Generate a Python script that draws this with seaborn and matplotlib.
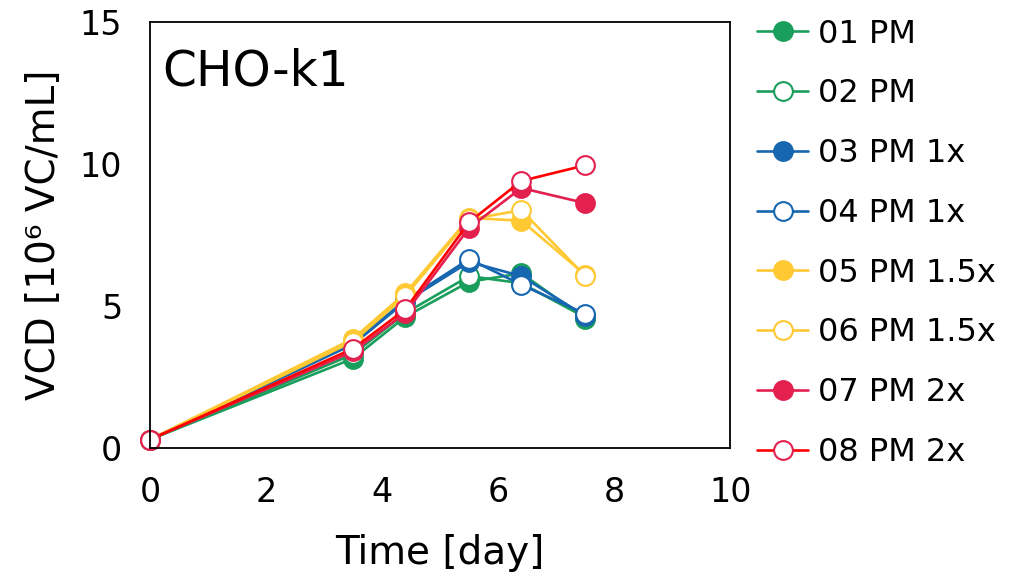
import matplotlib
matplotlib.use("Agg")
import matplotlib.pyplot as plt
import seaborn as sns

## Culture time points (day)
days = [0, 3.5, 4.4, 5.5, 6.4, 7.5]

## VCD readings per condition [10^6 VC/mL]
vcd_01 = [0.3, 3.15, 4.62, 5.85, 6.15, 4.55]
vcd_02 = [0.3, 3.30, 4.75, 6.05, 5.80, 4.60]
vcd_03 = [0.3, 3.65, 5.15, 6.55, 6.05, 4.65]
vcd_04 = [0.3, 3.70, 5.20, 6.65, 5.75, 4.72]
vcd_05 = [0.3, 3.85, 5.45, 8.10, 8.00, 6.10]
vcd_06 = [0.3, 3.75, 5.35, 8.05, 8.37, 6.05]
vcd_07 = [0.3, 3.40, 4.75, 7.75, 9.15, 8.62]
vcd_08 = [0.3, 3.50, 4.88, 7.95, 9.40, 9.95]

labels = ["01 PM", "02 PM", "03 PM 1x", "04 PM 1x",
          "05 PM 1.5x", "06 PM 1.5x", "07 PM 2x", "08 PM 2x"]
series = [vcd_01, vcd_02, vcd_03, vcd_04, vcd_05, vcd_06, vcd_07, vcd_08]

GREEN = "#1A9E5C"
BLUE = "#1666B0"
YELLOW = "#FFC933"
CRIMSON = "#E4204F"
RED = "#FF0000"

# (line colour, marker edge, filled?)
styles = [
    (GREEN, GREEN, True), (GREEN, GREEN, False),
    (BLUE, BLUE, True), (BLUE, BLUE, False),
    (YELLOW, YELLOW, True), (YELLOW, YELLOW, False),
    (CRIMSON, CRIMSON, True), (RED, CRIMSON, False),
]

sns.set_theme(style="white")
plt.rcParams["font.family"] = ["DejaVu Sans"]
plt.rcParams["text.color"] = "black"

fig = plt.figure(figsize=(10.2, 5.73), dpi=100)
ax = fig.add_axes([0.147, 0.218, 0.569, 0.744])

for vals, lab, (lc, ec, filled) in zip(series, labels, styles):
    sns.lineplot(x=days, y=vals, ax=ax, color=lc, linewidth=1.9,
                 marker="o", markersize=13.5, markeredgewidth=1.5,
                 markeredgecolor=ec, markerfacecolor=ec if filled else "white",
                 label=lab, estimator=None, sort=False)

ax.set_xlim(0, 10)
ax.set_ylim(0, 15)
ax.set_xticks([0, 2, 4, 6, 8, 10])
ax.set_yticks([0, 5, 10, 15])
ax.tick_params(length=0, labelsize=24, colors="black")
ax.tick_params(axis="x", pad=20)
ax.tick_params(axis="y", pad=20)
for s in ax.spines.values():
    s.set_color("black")
    s.set_linewidth(1.3)

ax.set_xlabel("Time [day]", fontsize=28, labelpad=18, color="black")
ax.set_ylabel("VCD [10⁶ VC/mL]", fontsize=28, labelpad=12, color="black")

ax.text(0.022, 0.94, "CHO-k1", transform=ax.transAxes, fontsize=35,
        va="top", ha="left", color="black")

for line in ax.get_lines():
    line.set_clip_on(False)

leg = ax.legend(loc="upper left", bbox_to_anchor=(0.730, 0.99), bbox_transform=fig.transFigure,
                frameon=False, fontsize=23, handlelength=1.6, handletextpad=0.3,
                labelspacing=0.9, borderaxespad=0)
for t in leg.get_texts():
    t.set_color("black")

fig.savefig("out.png", dpi=100)
